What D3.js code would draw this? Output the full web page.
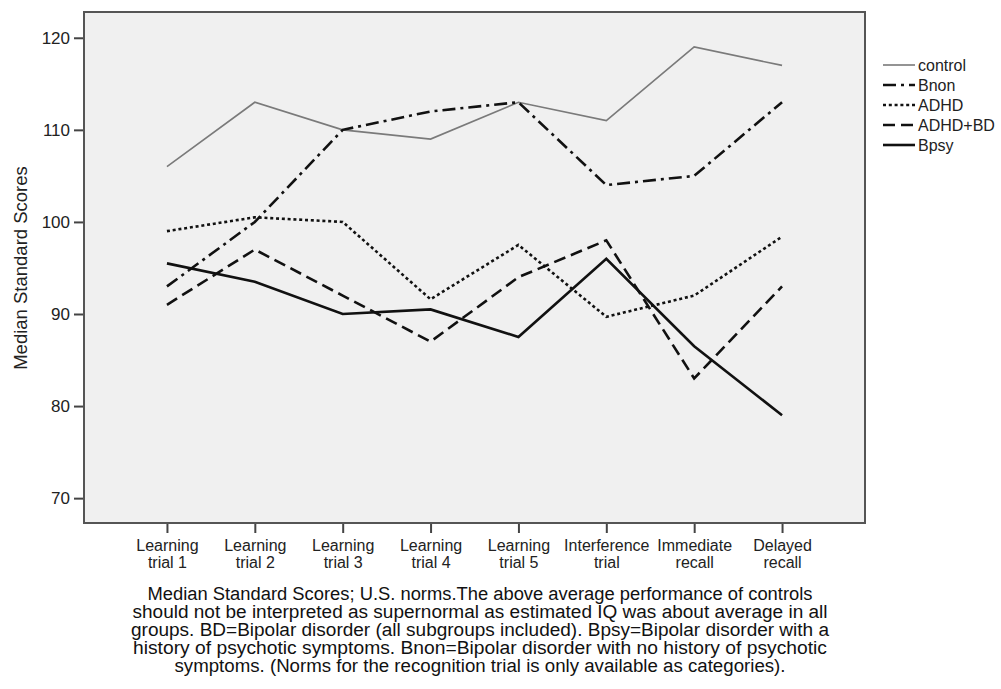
<!DOCTYPE html>
<html><head><meta charset="utf-8">
<script src="https://cdn.jsdelivr.net/npm/d3@7"></script>
<style>body{margin:0;background:#fff;} svg{display:block;}</style>
</head><body>
<svg id="c" width="1001" height="689"></svg>
<script>
const categories = ["Learning trial 1","Learning trial 2","Learning trial 3","Learning trial 4","Learning trial 5","Interference trial","Immediate recall","Delayed recall"];
const categoryLines = [["Learning","trial 1"],["Learning","trial 2"],["Learning","trial 3"],["Learning","trial 4"],["Learning","trial 5"],["Interference","trial"],["Immediate","recall"],["Delayed","recall"]];
const controlValues = [106, 113, 110, 109, 113, 111, 119, 117];
const bnonValues    = [93, 100, 110, 112, 113, 104, 105, 113];
const adhdValues    = [99, 100.5, 100, 91.6, 97.5, 89.7, 92, 98.4];
const adhdBdValues  = [91, 97, 92, 87, 94, 98, 83, 93];
const bpsyValues    = [95.5, 93.5, 90, 90.5, 87.5, 96, 86.5, 79];
const yTicks = [70, 80, 90, 100, 110, 120];
const seriesNames = ["control","Bnon","ADHD","ADHD+BD","Bpsy"];
const captionLines = [
 "Median Standard Scores; U.S. norms.The above average performance of controls",
 "should not be interpreted as supernormal as estimated IQ was about average in all",
 "groups. BD=Bipolar disorder (all subgroups included). Bpsy=Bipolar disorder with a",
 "history of psychotic symptoms. Bnon=Bipolar disorder with no history of psychotic",
 "symptoms. (Norms for the recognition trial is only available as categories)."
];
const captionWidths = [665, 695, 698, 694, 611];

const series = [
 {name: seriesNames[0], values: controlValues, color:"#7a7a7a", width:1.6, dash:null},
 {name: seriesNames[1], values: bnonValues, color:"#111", width:2.6, dash:"13,5,3,5"},
 {name: seriesNames[2], values: adhdValues, color:"#111", width:2.6, dash:"3,2.8"},
 {name: seriesNames[3], values: adhdBdValues, color:"#111", width:2.6, dash:"12,6"},
 {name: seriesNames[4], values: bpsyValues, color:"#111", width:2.6, dash:null}
];

const svg = d3.select("#c");
const L=84, R=865, T=12, B=523;
const x = d3.scalePoint().domain(categories).range([L,R]).padding(0.944);
const y = d3.scaleLinear().domain([67.3,122.8]).range([B,T]);
const font = "Arial, 'Liberation Sans', sans-serif";

svg.append("rect").attr("x",L).attr("y",T).attr("width",R-L).attr("height",B-T)
  .attr("fill","#f0f0f0");

const line = d3.line().x((d,i)=>x(categories[i])).y(d=>y(d));
series.forEach(s=>{
  svg.append("path").datum(s.values).attr("d",line).attr("fill","none")
   .attr("stroke",s.color).attr("stroke-width",s.width)
   .attr("stroke-dasharray",s.dash).attr("stroke-linejoin","miter");
});

svg.append("rect").attr("x",L).attr("y",T).attr("width",R-L).attr("height",B-T)
  .attr("fill","none").attr("stroke","#555").attr("stroke-width",2);

// y axis
const ya = svg.append("g").attr("transform",`translate(${L-1},0)`)
  .call(d3.axisLeft(y).tickValues(yTicks).tickSize(9).tickPadding(4));
ya.select(".domain").remove();
ya.selectAll(".tick line").attr("stroke","#444").attr("stroke-width",2);
ya.selectAll(".tick text").attr("font-family",font).attr("font-size",17).attr("fill","#222");

// x axis
const xa = svg.append("g").attr("transform",`translate(0,${B+1})`)
  .call(d3.axisBottom(x).tickSize(9).tickFormat(""));
xa.select(".domain").remove();
xa.selectAll(".tick line").attr("stroke","#444").attr("stroke-width",2);
xa.selectAll(".tick").each(function(d,i){
  const t = d3.select(this).append("text").attr("font-family",font).attr("font-size",16)
    .attr("fill","#222").attr("text-anchor","middle");
  categoryLines[i].forEach((ln,j)=>t.append("tspan").attr("x",0).attr("y",27+j*16.5).text(ln));
});

// y title
svg.append("text").attr("transform","translate(27,268) rotate(-90)")
  .attr("text-anchor","middle").attr("font-family",font).attr("font-size",18.5).attr("fill","#222")
  .text("Median Standard Scores");

// legend
const lg = svg.append("g");
series.forEach((s,i)=>{
  const yy = 65 + i*20;
  lg.append("line").attr("x1",883).attr("x2",915).attr("y1",yy).attr("y2",yy)
    .attr("stroke",s.color).attr("stroke-width",s.width).attr("stroke-dasharray",s.dash);
  lg.append("text").attr("x",918).attr("y",yy+5.5).attr("font-family",font).attr("font-size",16)
    .attr("fill","#222").text(s.name);
});

// caption
const cap = svg.append("g");
captionLines.forEach((ln,i)=>{
  cap.append("text").attr("x",480).attr("y",600+i*18).attr("text-anchor","middle")
   .attr("font-family",font)
   .attr("font-size",18).attr("fill","#111")
   .attr("textLength",captionWidths[i]).attr("lengthAdjust","spacingAndGlyphs").text(ln);
});
</script>
</body></html>
